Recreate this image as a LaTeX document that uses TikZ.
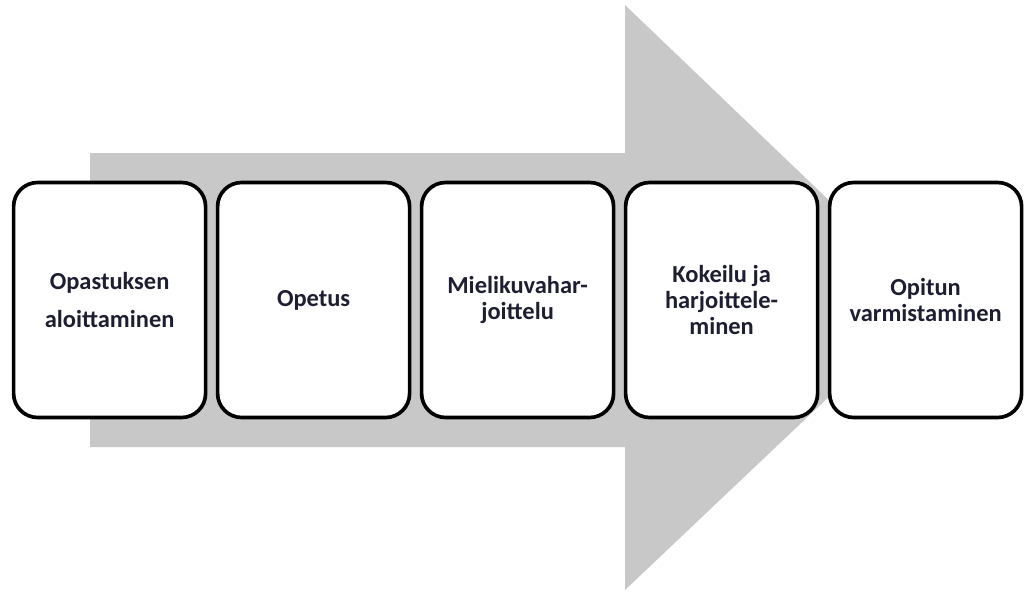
\documentclass[tikz,border=0pt]{standalone}
\usepackage{fontspec}
\setmainfont{Carlito}
\definecolor{arrowgray}{RGB}{200,200,200}
\definecolor{textnavy}{RGB}{30,30,50}
\tikzset{
  stagebox/.style={draw=black, line width=2.6pt, fill=white, rounded corners=0.6cm,
    minimum width=4.8cm, minimum height=5.875cm, align=center,
    text=textnavy, font=\bfseries\fontsize{17.4}{18.5}\selectfont}
}
\begin{document}
\begin{tikzpicture}
\useasboundingbox (0,0) rectangle (25.7,14.825);

% Big grey arrow in the background
\fill[arrowgray] (2.25,3.65) -- (2.25,11.0) -- (15.625,11.0) -- (15.625,14.7)
  -- (23.3,7.35) -- (15.625,0.075) -- (15.625,3.65) -- cycle;

% The five stages
\node[stagebox] (aloitus) at (2.74,7.325) {Opastuksen\\[8pt]aloittaminen};
\node[stagebox] (opetus) at (7.84,7.325) {Opetus};
\node[stagebox] (mielikuva) at (12.94,7.325) {Mielikuvahar-\\joittelu};
\node[stagebox] (kokeilu) at (18.04,7.325) {Kokeilu ja\\harjoittele-\\minen};
\node[stagebox] (varmistus) at (23.14,7.325) {\mbox{}\\[-6pt]Opitun\\varmistaminen};
\end{tikzpicture}
\end{document}
